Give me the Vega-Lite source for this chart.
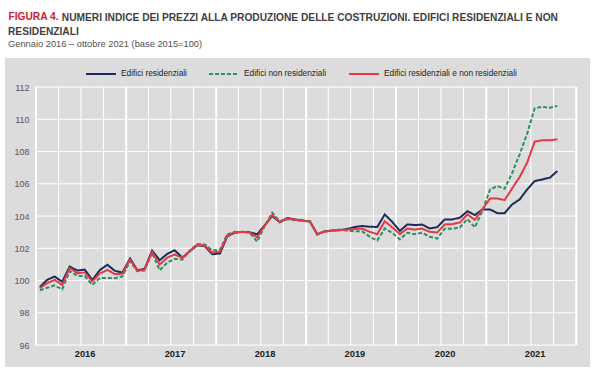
{
  "$schema": "https://vega.github.io/schema/vega-lite/v6.json",
  "width": 585,
  "height": 309,
  "autosize": "none",
  "padding": {"left": 5, "top": 58, "right": 10, "bottom": 7},
  "background": "white",
  "view": {"fill": "#dcdcdc", "stroke": null},
  "config": {"font": "Liberation Sans"},
  "title": {
    "text": ["\u200b\u00a0\u00a0\u00a0\u00a0\u00a0\u00a0\u00a0\u00a0\u00a0\u00a0\u00a0\u00a0\u00a0\u00a0\u00a0\u00a0\u00a0\u00a0\u00a0NUMERI INDICE DEI PREZZI ALLA PRODUZIONE DELLE COSTRUZIONI. EDIFICI RESIDENZIALI E NON", "RESIDENZIALI"],
    "subtitle": "Gennaio 2016 \u2013 ottobre 2021 (base 2015=100)",
    "anchor": "start",
    "frame": "group",
    "orient": "top",
    "offset": -38,
    "dx": 3,
    "font": "Liberation Sans",
    "fontSize": 10.2,
    "fontWeight": "bold",
    "color": "#3f3f3f",
    "lineHeight": 14,
    "subtitleFont": "Liberation Sans",
    "subtitleFontSize": 9.3,
    "subtitleColor": "#505050",
    "subtitlePadding": 3
  },
  "datasets": {
    "serie": [
      {"m": "2016-01", "res": 99.6, "nonres": 99.4, "tot": 99.52},
      {"m": "2016-02", "res": 100.05, "nonres": 99.55, "tot": 99.85},
      {"m": "2016-03", "res": 100.25, "nonres": 99.7, "tot": 100.04},
      {"m": "2016-04", "res": 99.92, "nonres": 99.46, "tot": 99.72},
      {"m": "2016-05", "res": 100.87, "nonres": 100.59, "tot": 100.78},
      {"m": "2016-06", "res": 100.62, "nonres": 100.3, "tot": 100.46},
      {"m": "2016-07", "res": 100.68, "nonres": 100.28, "tot": 100.5},
      {"m": "2016-08", "res": 100.04, "nonres": 99.73, "tot": 99.95},
      {"m": "2016-09", "res": 100.65, "nonres": 100.16, "tot": 100.44},
      {"m": "2016-10", "res": 100.98, "nonres": 100.16, "tot": 100.66},
      {"m": "2016-11", "res": 100.6, "nonres": 100.15, "tot": 100.4},
      {"m": "2016-12", "res": 100.5, "nonres": 100.26, "tot": 100.42},
      {"m": "2017-01", "res": 101.37, "nonres": 101.2, "tot": 101.3},
      {"m": "2017-02", "res": 100.64, "nonres": 100.58, "tot": 100.6},
      {"m": "2017-03", "res": 100.72, "nonres": 100.62, "tot": 100.68},
      {"m": "2017-04", "res": 101.86, "nonres": 101.72, "tot": 101.79},
      {"m": "2017-05", "res": 101.26, "nonres": 100.64, "tot": 100.99},
      {"m": "2017-06", "res": 101.65, "nonres": 101.1, "tot": 101.42},
      {"m": "2017-07", "res": 101.88, "nonres": 101.35, "tot": 101.62},
      {"m": "2017-08", "res": 101.42, "nonres": 101.3, "tot": 101.4},
      {"m": "2017-09", "res": 101.82, "nonres": 101.86, "tot": 101.83},
      {"m": "2017-10", "res": 102.19, "nonres": 102.27, "tot": 102.22},
      {"m": "2017-11", "res": 102.13, "nonres": 102.24, "tot": 102.17},
      {"m": "2017-12", "res": 101.63, "nonres": 101.86, "tot": 101.72},
      {"m": "2018-01", "res": 101.68, "nonres": 101.92, "tot": 101.8},
      {"m": "2018-02", "res": 102.75, "nonres": 102.86, "tot": 102.8},
      {"m": "2018-03", "res": 102.96, "nonres": 103.02, "tot": 102.98},
      {"m": "2018-04", "res": 103.02, "nonres": 103.0, "tot": 103.02},
      {"m": "2018-05", "res": 103.0, "nonres": 102.97, "tot": 102.98},
      {"m": "2018-06", "res": 102.86, "nonres": 102.42, "tot": 102.68},
      {"m": "2018-07", "res": 103.42, "nonres": 103.37, "tot": 103.4},
      {"m": "2018-08", "res": 104.0, "nonres": 104.2, "tot": 104.06},
      {"m": "2018-09", "res": 103.62, "nonres": 103.68, "tot": 103.64},
      {"m": "2018-10", "res": 103.88, "nonres": 103.8, "tot": 103.85},
      {"m": "2018-11", "res": 103.79, "nonres": 103.74, "tot": 103.77},
      {"m": "2018-12", "res": 103.73, "nonres": 103.7, "tot": 103.72},
      {"m": "2019-01", "res": 103.66, "nonres": 103.66, "tot": 103.66},
      {"m": "2019-02", "res": 102.86, "nonres": 102.9, "tot": 102.87},
      {"m": "2019-03", "res": 103.05, "nonres": 103.03, "tot": 103.04},
      {"m": "2019-04", "res": 103.1, "nonres": 103.12, "tot": 103.1},
      {"m": "2019-05", "res": 103.12, "nonres": 103.16, "tot": 103.12},
      {"m": "2019-06", "res": 103.2, "nonres": 103.1, "tot": 103.15},
      {"m": "2019-07", "res": 103.32, "nonres": 103.05, "tot": 103.2},
      {"m": "2019-08", "res": 103.38, "nonres": 103.05, "tot": 103.22},
      {"m": "2019-09", "res": 103.34, "nonres": 102.72, "tot": 103.02},
      {"m": "2019-10", "res": 103.32, "nonres": 102.48, "tot": 102.88},
      {"m": "2019-11", "res": 104.1, "nonres": 103.23, "tot": 103.68},
      {"m": "2019-12", "res": 103.64, "nonres": 102.96, "tot": 103.3},
      {"m": "2020-01", "res": 103.08, "nonres": 102.55, "tot": 102.88},
      {"m": "2020-02", "res": 103.48, "nonres": 102.96, "tot": 103.23},
      {"m": "2020-03", "res": 103.44, "nonres": 102.88, "tot": 103.16},
      {"m": "2020-04", "res": 103.47, "nonres": 102.96, "tot": 103.22},
      {"m": "2020-05", "res": 103.23, "nonres": 102.72, "tot": 103.02},
      {"m": "2020-06", "res": 103.31, "nonres": 102.6, "tot": 102.98},
      {"m": "2020-07", "res": 103.79, "nonres": 103.22, "tot": 103.48},
      {"m": "2020-08", "res": 103.79, "nonres": 103.22, "tot": 103.5},
      {"m": "2020-09", "res": 103.9, "nonres": 103.29, "tot": 103.6},
      {"m": "2020-10", "res": 104.3, "nonres": 103.82, "tot": 104.1},
      {"m": "2020-11", "res": 104.06, "nonres": 103.3, "tot": 103.76},
      {"m": "2020-12", "res": 104.41, "nonres": 104.33, "tot": 104.41},
      {"m": "2021-01", "res": 104.41, "nonres": 105.65, "tot": 105.09},
      {"m": "2021-02", "res": 104.18, "nonres": 105.86, "tot": 105.09},
      {"m": "2021-03", "res": 104.18, "nonres": 105.69, "tot": 104.99},
      {"m": "2021-04", "res": 104.72, "nonres": 106.67, "tot": 105.71},
      {"m": "2021-05", "res": 105.03, "nonres": 107.83, "tot": 106.42},
      {"m": "2021-06", "res": 105.65, "nonres": 109.11, "tot": 107.31},
      {"m": "2021-07", "res": 106.17, "nonres": 110.68, "tot": 108.61},
      {"m": "2021-08", "res": 106.27, "nonres": 110.77, "tot": 108.7},
      {"m": "2021-09", "res": 106.38, "nonres": 110.72, "tot": 108.7},
      {"m": "2021-10", "res": 106.79, "nonres": 110.83, "tot": 108.76}
    ],
    "ygrid": [{"v": 96}, {"v": 98}, {"v": 100}, {"v": 102}, {"v": 104}, {"v": 106}, {"v": 108}, {"v": 110}, {"v": 112}],
    "xgrid": [
      {"d": "2016-01-01"}, {"d": "2016-04-01"}, {"d": "2016-07-01"}, {"d": "2016-10-01"},
      {"d": "2017-01-01"}, {"d": "2017-04-01"}, {"d": "2017-07-01"}, {"d": "2017-10-01"},
      {"d": "2018-01-01"}, {"d": "2018-04-01"}, {"d": "2018-07-01"}, {"d": "2018-10-01"},
      {"d": "2019-01-01"}, {"d": "2019-04-01"}, {"d": "2019-07-01"}, {"d": "2019-10-01"},
      {"d": "2020-01-01"}, {"d": "2020-04-01"}, {"d": "2020-07-01"}, {"d": "2020-10-01"},
      {"d": "2021-01-01"}, {"d": "2021-04-01"}, {"d": "2021-07-01"}, {"d": "2021-10-01"},
      {"d": "2022-01-01"}
    ]
  },
  "encoding": {
    "y": {
      "type": "quantitative",
      "scale": {"domain": [94.64, 113.8], "nice": false, "zero": false},
      "axis": {
        "values": [96, 98, 100, 102, 104, 106, 108, 110, 112],
        "orient": "left",
        "offset": -31,
        "grid": false,
        "domain": false,
        "ticks": false,
        "labelPadding": 7,
        "labelFontSize": 9,
        "labelColor": "#595959",
        "labelFont": "Liberation Sans",
        "title": "FIGURA 4.",
        "titleAngle": 0,
        "titleAlign": "left",
        "titleBaseline": "alphabetic",
        "titleX": -28,
        "titleY": -39,
        "titleColor": "#d0202a",
        "titleFontSize": 10.2,
        "titleFontWeight": "bold",
        "titleFont": "Liberation Sans"
      }
    }
  },
  "layer": [
    {
      "data": {"name": "ygrid"},
      "mark": {"type": "rule", "color": "white", "strokeWidth": 1},
      "encoding": {
        "y": {"field": "v", "type": "quantitative"},
        "x": {"datum": {"year": 2016, "month": 1, "date": 1, "utc": true}, "type": "temporal"},
        "x2": {"datum": {"year": 2022, "month": 1, "date": 1, "utc": true}}
      }
    },
    {
      "data": {"name": "xgrid"},
      "mark": {"type": "rule", "color": "white"},
      "encoding": {
        "x": {"field": "d", "type": "temporal"},
        "y": {"datum": 96, "type": "quantitative"},
        "y2": {"datum": 112},
        "strokeWidth": {"condition": {"test": "utcmonth(datum.d) == 0", "value": 2}, "value": 1}
      }
    },
    {
      "mark": {"type": "rule", "color": "black", "strokeWidth": 1.2},
      "encoding": {
        "y": {"datum": 100, "type": "quantitative"},
        "x": {"datum": {"year": 2016, "month": 1, "date": 1, "utc": true}, "type": "temporal"},
        "x2": {"datum": {"year": 2022, "month": 1, "date": 1, "utc": true}}
      }
    },
    {
      "data": {"name": "serie"},
      "transform": [{"fold": ["res", "nonres", "tot"], "as": ["serie", "valore"]}],
      "mark": {"type": "line", "strokeWidth": 2},
      "encoding": {
        "x": {
          "field": "m",
          "timeUnit": "utcyearmonth",
          "type": "temporal",
          "bandPosition": 0.5,
          "scale": {
            "type": "utc",
            "domain": [
              {"year": 2015, "month": 8, "date": 28, "utc": true},
              {"year": 2022, "month": 2, "date": 26, "utc": true}
            ]
          },
          "axis": {
            "values": [
              {"year": 2016, "month": 7, "date": 16, "utc": true},
              {"year": 2017, "month": 7, "date": 16, "utc": true},
              {"year": 2018, "month": 7, "date": 16, "utc": true},
              {"year": 2019, "month": 7, "date": 16, "utc": true},
              {"year": 2020, "month": 7, "date": 16, "utc": true},
              {"year": 2021, "month": 7, "date": 16, "utc": true}
            ],
            "labelExpr": "utcFormat(datum.value, '%Y')",
            "orient": "bottom",
            "offset": -23,
            "grid": false,
            "domain": false,
            "ticks": false,
            "labelPadding": 5,
            "labelFontSize": 9.3,
            "labelFontWeight": "bold",
            "labelColor": "#222222",
            "labelFont": "Liberation Sans",
            "title": null
          }
        },
        "y": {"field": "valore", "type": "quantitative"},
        "color": {
          "field": "serie",
          "type": "nominal",
          "scale": {"domain": ["res", "nonres", "tot"], "range": ["#1c2b5a", "#2d8f62", "#e33a45"]},
          "legend": {
            "orient": "none",
            "legendX": 80,
            "legendY": 0,
            "direction": "horizontal",
            "title": null,
            "symbolType": "stroke",
            "symbolSize": 900,
            "symbolStrokeWidth": 2,
            "labelOffset": 4,
            "columnPadding": 18,
            "padding": 0,
            "labelFontSize": 8.3,
            "labelLimit": 300,
            "labelColor": "#222222",
            "labelFont": "Liberation Sans",
            "labelExpr": "datum.label == 'res' ? 'Edifici residenziali' : datum.label == 'nonres' ? 'Edifici non residenziali' : 'Edifici residenziali e non residenziali'"
          }
        },
        "strokeDash": {
          "field": "serie",
          "type": "nominal",
          "scale": {"domain": ["res", "nonres", "tot"], "range": [[1, 0], [4, 2], [1, 0]]},
          "legend": {
            "orient": "none",
            "legendX": 80,
            "legendY": 0,
            "direction": "horizontal",
            "title": null,
            "symbolType": "stroke",
            "symbolSize": 900,
            "symbolStrokeWidth": 2,
            "labelOffset": 4,
            "columnPadding": 18,
            "padding": 0,
            "labelFontSize": 8.3,
            "labelLimit": 300,
            "labelColor": "#222222",
            "labelFont": "Liberation Sans",
            "labelExpr": "datum.label == 'res' ? 'Edifici residenziali' : datum.label == 'nonres' ? 'Edifici non residenziali' : 'Edifici residenziali e non residenziali'"
          }
        }
      }
    }
  ]
}
